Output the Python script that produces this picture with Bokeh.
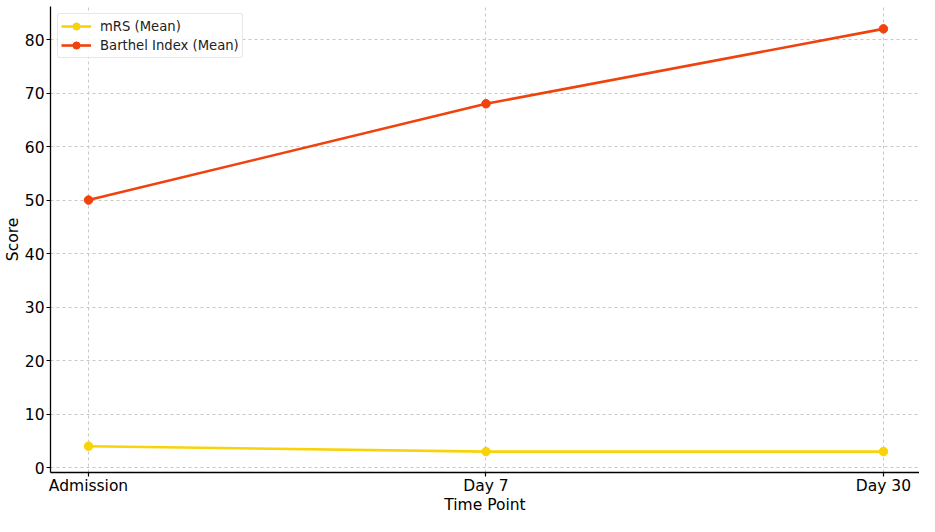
from bokeh.plotting import figure
from bokeh.models import FixedTicker, Range1d, Legend, LegendItem
from bokeh.embed import file_html
from bokeh.resources import INLINE

time_points = ["Admission", "Day 7", "Day 30"]
mrs_mean = [4, 3, 3]
barthel_mean = [50, 68, 82]
y_ticks = [0, 10, 20, 30, 40, 50, 60, 70, 80]

xs = list(range(len(time_points)))

p = figure(width=919, height=516, output_backend="svg", toolbar_location=None,
           x_range=Range1d(-0.0957, 2.0907), y_range=Range1d(-0.91, 86.18),
           min_border_left=10, min_border_right=0, min_border_top=6, min_border_bottom=0)
p.outline_line_color = None
p.background_fill_color = "white"

FONT = "DejaVu Sans"
for ax in (p.xaxis[0], p.yaxis[0]):
    ax.axis_line_color = "black"
    ax.axis_line_width = 1.3
    ax.major_tick_line_color = "black"
    ax.major_tick_line_width = 1.2
    ax.major_tick_out = 4
    ax.major_tick_in = 0
    ax.minor_tick_line_color = None
    ax.major_label_text_font = FONT
    ax.major_label_text_font_size = "15.5px"
    ax.major_label_text_color = "black"
    ax.axis_label_text_font = FONT
    ax.axis_label_text_font_size = "15.5px"
    ax.axis_label_text_font_style = "normal"
    ax.axis_label_text_color = "black"

p.xaxis.ticker = FixedTicker(ticks=xs)
p.xaxis.major_label_overrides = {i: t for i, t in enumerate(time_points)}
p.xaxis.axis_label = "Time Point"
p.xaxis.axis_label_standoff = -2
p.xaxis.major_label_standoff = 0
p.yaxis.ticker = FixedTicker(ticks=y_ticks)
p.yaxis.axis_label = "Score"
p.yaxis.axis_label_standoff = 0
p.yaxis.major_label_standoff = 2

for g in (p.xgrid[0], p.ygrid[0]):
    g.grid_line_color = "#c8c8c8"
    g.grid_line_dash = "3 3"
    g.grid_line_width = 1

c1 = "#F7D308"
c2 = "#F0420C"
l1 = p.line(xs, mrs_mean, line_color=c1, line_width=2.6)
s1 = p.scatter(xs, mrs_mean, size=8.5, fill_color=c1, line_color=c1)
l2 = p.line(xs, barthel_mean, line_color=c2, line_width=2.6)
s2 = p.scatter(xs, barthel_mean, size=8.5, fill_color=c2, line_color=c2)

legend = Legend(items=[LegendItem(label="mRS (Mean)", renderers=[l1, s1]),
                       LegendItem(label="Barthel Index (Mean)", renderers=[l2, s2])],
                location="top_left")
legend.label_text_font = FONT
legend.label_text_font_size = "13.2px"
legend.label_text_color = "#222222"
legend.border_line_color = "#d0d0d0"
legend.border_line_width = 1
legend.border_radius = 3
legend.margin = 7
legend.padding = 3
legend.spacing = 1
legend.glyph_width = 30
legend.glyph_height = 18
legend.label_height = 18
legend.label_standoff = 9
legend.background_fill_alpha = 0.85
p.add_layout(legend)

open("out.html", "w").write(file_html(p, INLINE))
